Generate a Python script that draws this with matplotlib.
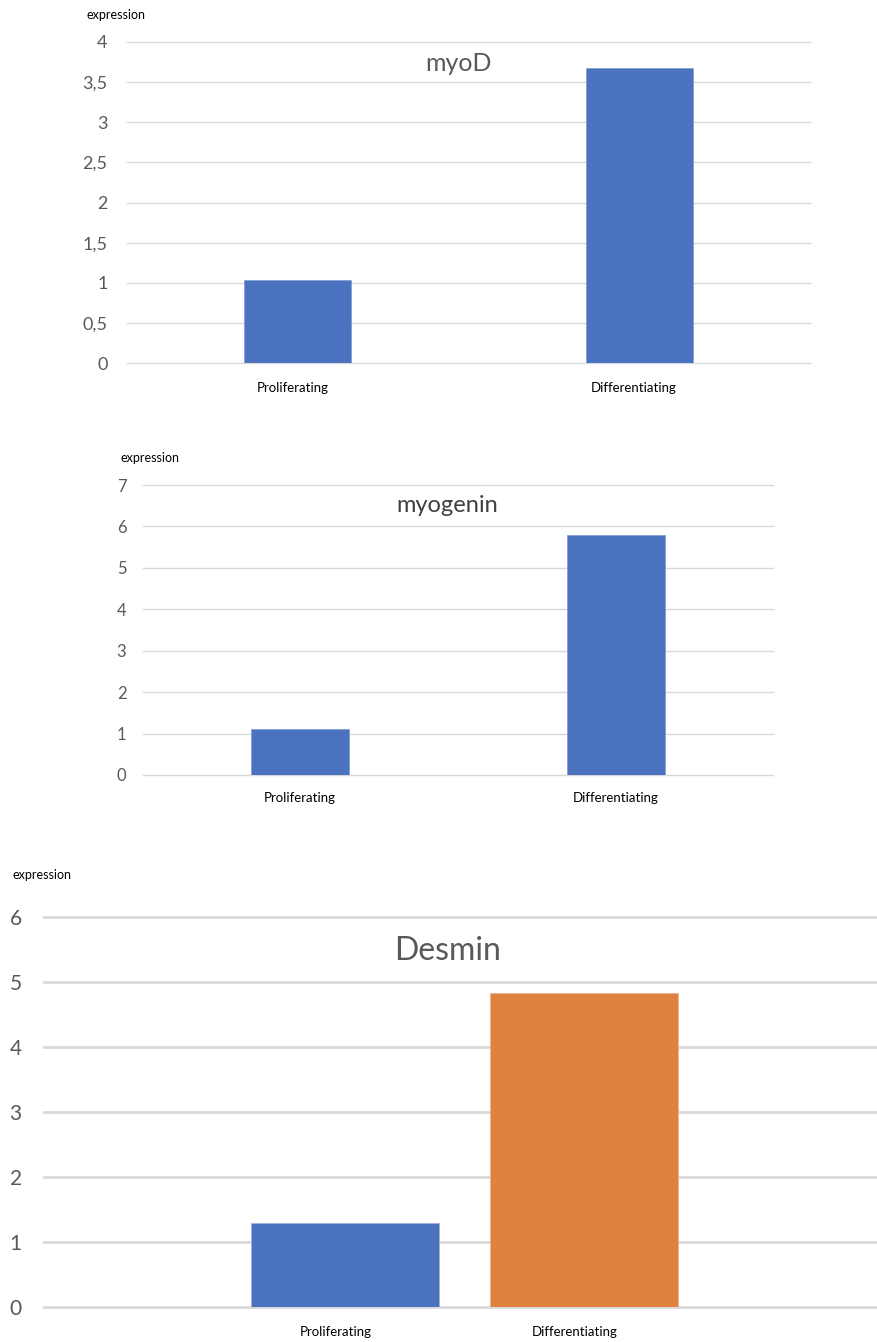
import matplotlib.pyplot as plt
from matplotlib.ticker import FuncFormatter

plt.rcParams['font.family'] = ['Lato', 'DejaVu Sans']

# expression values per gene
conditions = ["Proliferating", "Differentiating"]
myod_vals = [1.03, 3.68]
myogenin_vals = [1.11, 5.79]
desmin_vals = [1.29, 4.83]

myod_ticks = [0, 0.5, 1, 1.5, 2, 2.5, 3, 3.5, 4]
myogenin_ticks = [0, 1, 2, 3, 4, 5, 6, 7]
desmin_ticks = [0, 1, 2, 3, 4, 5, 6]

BLUE = "#4a72be"
ORANGE = "#e0823f"
GRID = "#d9d9d9"
GREY = "#595959"

W, H = 877, 1342
fig = plt.figure(figsize=(W / 100, H / 100), dpi=100)


def box(l, r, t, b):
    return [l / W, 1 - b / H, (r - l) / W, (b - t) / H]


def comma(v, pos):
    s = f"{v:g}"
    return s.replace(".", ",")


def style(ax, ticks, ysize, ypad, xpad, gridw):
    ax.set_ylim(ticks[0], ticks[-1])
    ax.set_yticks(ticks)
    ax.yaxis.set_major_formatter(FuncFormatter(comma))
    ax.grid(axis="y", color=GRID, lw=gridw, zorder=0)
    for gl in ax.get_ygridlines():
        gl.set_clip_on(False)
    ax.set_axisbelow(True)
    for s in ax.spines.values():
        s.set_visible(False)
    ax.tick_params(axis="y", length=0, labelsize=ysize, labelcolor=GREY, pad=ypad)
    ax.tick_params(axis="x", length=0, labelsize=9.5, labelcolor="black", pad=xpad)


# myoD
ax1 = fig.add_axes(box(127, 810, 42, 363))
ax1.bar([0, 1], myod_vals, width=0.314, color=BLUE, edgecolor="#7f9bd2", lw=0.5, zorder=2)
ax1.set_xlim(-0.5, 1.5)
ax1.set_xticks([-0.015, 0.985])
ax1.set_xticklabels(conditions)
style(ax1, myod_ticks, 13, 14, 14, 1.0)
ax1.text(0.485, 0.934, "myoD", transform=ax1.transAxes, ha="center", va="center",
         fontsize=18, color=GREY)
fig.text(116 / W, 1 - 15 / H, "expression", ha="center", va="center", fontsize=9)

# myogenin
ax2 = fig.add_axes(box(143, 773, 485, 775))
ax2.bar([0, 1], myogenin_vals, width=0.313, color=BLUE, edgecolor="#7f9bd2", lw=0.5, zorder=2)
ax2.set_xlim(-0.497, 1.497)
ax2.set_xticks([0, 1])
ax2.set_xticklabels(conditions)
style(ax2, myogenin_ticks, 12, 12, 12, 1.0)
ax2.text(0.483, 0.931, "myogenin", transform=ax2.transAxes, ha="center", va="center",
         fontsize=17, color="#404040")
fig.text(150 / W, 1 - 458 / H, "expression", ha="center", va="center", fontsize=9)

# Desmin
ax3 = fig.add_axes(box(44, 877, 917, 1307))
ax3.bar([0], desmin_vals[:1], width=0.785, color=BLUE, edgecolor="#9fb3df", lw=0.6, zorder=2)
ax3.bar([1], desmin_vals[1:], width=0.785, color=ORANGE, edgecolor="#f0b38c", lw=0.6, zorder=2)
ax3.set_xlim(-1.257, 2.222)
ax3.set_xticks([-0.038, 0.96])
ax3.set_xticklabels(conditions)
style(ax3, desmin_ticks, 15, 16, 14, 2.0)
ax3.text(0.485, 0.913, "Desmin", transform=ax3.transAxes, ha="center", va="center",
         fontsize=23, color=GREY)
fig.text(42 / W, 1 - 875 / H, "expression", ha="center", va="center", fontsize=9)

fig.savefig("out.png", dpi=100)
